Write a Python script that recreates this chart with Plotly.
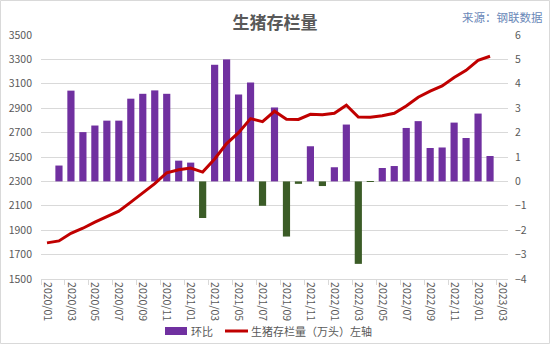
import plotly.graph_objects as go

months = [f"{y}/{m:02d}" for y in (2020, 2021, 2022) for m in range(1, 13)] + ["2023/01", "2023/02", "2023/03"]

# 生猪存栏量（万头），2020/01 - 2023/02
stock = [1796, 1812, 1875, 1916, 1966, 2012, 2056, 2130, 2204, 2281, 2371, 2396,
         2409, 2376, 2484, 2610, 2700, 2815, 2790, 2875, 2810, 2808, 2850, 2846,
         2858, 2924, 2827, 2825, 2838, 2858, 2918, 2990, 3040, 3082, 3152, 3210,
         3292, 3326, None]

# 环比 (%)
mom = [None, 0.65, 3.72, 2.02, 2.29, 2.49, 2.49, 3.39, 3.59, 3.73, 3.59, 0.85,
       0.77, -1.50, 4.78, 5.00, 3.56, 4.05, -1.00, 3.03, -2.26, -0.10, 1.44, -0.19,
       0.58, 2.33, -3.38, -0.02, 0.55, 0.63, 2.19, 2.47, 1.37, 1.39, 2.41, 1.78,
       2.78, 1.04, None]

tick_labels = months[::2]
legend_names = ["环比", "生猪存栏量（万头）左轴"]

PURPLE = "#7030A0"
GREEN = "#3B5C27"
RED = "#C00000"
GRID = "#D9D9D9"
TXT = "#595959"
FONT = "Noto Sans CJK SC"

# plot-area pixel geometry (for paper-coordinate helpers)
L, R, T, B = 41, 508, 35, 279
W, H = R - L, B - T


def px(v):
    return (v - L) / W


def py(v):
    return (B - v) / H


x = list(range(len(months)))
bar_colors = [PURPLE if (v is None or v >= 0) else GREEN for v in mom]

fig = go.Figure()
fig.add_trace(go.Bar(
    x=x, y=mom, name=legend_names[0], marker=dict(color=bar_colors, line=dict(width=0)),
    width=0.6, yaxis="y", showlegend=False,
))
fig.add_trace(go.Scatter(
    x=x, y=stock, name=legend_names[1], mode="lines",
    line=dict(color=RED, width=3), yaxis="y2", showlegend=False,
))

fig.update_layout(
    width=550, height=344,
    margin=dict(l=L, r=550 - R, t=T, b=344 - B),
    paper_bgcolor="white", plot_bgcolor="white",
    font=dict(family=FONT, size=11, color=TXT),
    showlegend=False,
    title=dict(text="<b>生猪存栏量</b>", x=0.5, xref="container", xanchor="center",
               y=1 - 23 / 344, yref="container", yanchor="middle",
               font=dict(family=FONT, size=17, color=TXT)),
    xaxis=dict(
        range=[-0.5, 38.5], tickmode="array", tickvals=x[::2], ticktext=tick_labels,
        tickangle=90, ticks="", showgrid=False, showline=True, linecolor=GRID, linewidth=1,
        tickfont=dict(size=10.5, color=TXT, family=FONT), automargin=False,
        minor=dict(tickmode="linear", tick0=-0.5, dtick=2, ticks="outside", ticklen=5,
                   tickcolor=GRID, showgrid=False),
        zeroline=False,
    ),
    yaxis=dict(
        side="right", range=[-4, 6], tick0=-4, dtick=1, showgrid=True, gridcolor=GRID, gridwidth=1,
        zeroline=False, showline=False, tickfont=dict(size=10.5, color=TXT, family=FONT),
        ticklabelstandoff=6, automargin=False,
    ),
    yaxis2=dict(
        side="left", overlaying="y", range=[1500, 3500], tick0=1500, dtick=200, showgrid=False,
        zeroline=False, showline=False, tickfont=dict(size=10.5, color=TXT, family=FONT),
        ticklabelstandoff=8, automargin=False,
    ),
    bargap=0.4,
)

fig.add_annotation(text="来源：钢联数据", xref="paper", yref="paper",
                   x=px(545), y=py(17), xanchor="right", yanchor="middle",
                   showarrow=False, font=dict(family=FONT, size=11.5, color="#6A88B8"))

# legend (drawn manually to mimic the source style)
fig.add_shape(type="rect", xref="paper", yref="paper",
              x0=px(165), x1=px(187), y0=py(335), y1=py(327),
              line=dict(width=0), fillcolor=PURPLE)
fig.add_annotation(text=legend_names[0], xref="paper", yref="paper", x=px(189), y=py(331),
                   xanchor="left", yanchor="middle", showarrow=False,
                   font=dict(family=FONT, size=11, color=TXT))
fig.add_shape(type="line", xref="paper", yref="paper",
              x0=px(225), x1=px(248), y0=py(331), y1=py(331),
              line=dict(color=RED, width=3))
fig.add_annotation(text=legend_names[1], xref="paper", yref="paper", x=px(249), y=py(331),
                   xanchor="left", yanchor="middle", showarrow=False,
                   font=dict(family=FONT, size=11, color=TXT))

fig.add_shape(type="rect", xref="paper", yref="paper",
              x0=px(0.5), x1=px(549.5), y0=py(343.5), y1=py(0.5),
              line=dict(color=GRID, width=1), fillcolor="rgba(0,0,0,0)", layer="below")

fig.write_html("out.html")
